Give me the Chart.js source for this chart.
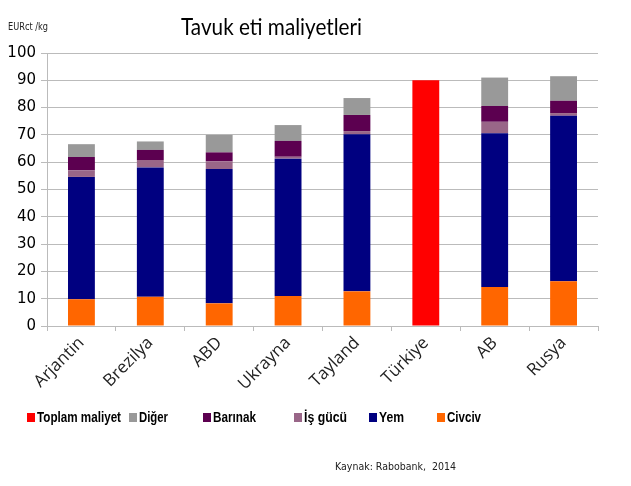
<!DOCTYPE html>
<html>
<head>
<meta charset="utf-8">
<script src="https://cdn.jsdelivr.net/npm/chart.js@4.4.1/dist/chart.umd.min.js"></script>
<style>
  html, body { margin: 0; padding: 0; background: #fff; }
  #wrap { width: 631px; height: 486px; }
</style>
</head>
<body>
<div id="wrap"><canvas id="c" width="631" height="486"></canvas></div>
<script>
// data (EURct/kg)
const countries = ['Arjantin', 'Brezilya', 'ABD', 'Ukrayna', 'Tayland', 'Türkiye', 'AB', 'Rusya'];
const civciv  = [9.8, 10.7, 8.3, 11.0, 12.7, null, 14.3, 16.4];
const yem     = [44.8, 47.4, 49.2, 50.3, 57.5, null, 56.3, 60.6];
const isGucu  = [2.4, 2.7, 2.8, 0.7, 1.2, null, 4.2, 1.0];
const barinak = [4.9, 3.7, 3.3, 5.8, 5.9, null, 5.8, 4.5];
const diger   = [4.7, 3.1, 6.4, 5.8, 6.2, null, 10.4, 9.0];
const toplam  = [null, null, null, null, null, 90, null, null];
const yTicks  = [0, 10, 20, 30, 40, 50, 60, 70, 80, 90, 100];

const colors = {
  toplam: '#ff0000',
  diger: '#999999',
  barinak: '#5c0050',
  isGucu: '#996688',
  yem: '#000080',
  civciv: '#ff6600'
};

// legend boxes sit at uneven spots in the original, so they are drawn by hand
const legendItems = [
  { label: 'Toplam maliyet', color: colors.toplam, x: 27, w: 84 },
  { label: 'Diğer', color: colors.diger, x: 129, w: 29 },
  { label: 'Barınak', color: colors.barinak, x: 203, w: 43 },
  { label: 'İş gücü', color: colors.isGucu, x: 294, w: 43 },
  { label: 'Yem', color: colors.yem, x: 369, w: 25 },
  { label: 'Civciv', color: colors.civciv, x: 437, w: 34 }
];

const makeSet = (label, data, color) => ({
  label: label,
  data: data,
  backgroundColor: color,
  borderWidth: 0,
  barPercentage: 0.39,
  categoryPercentage: 1.0
});

const decorations = {
  id: 'decorations',
  afterDraw(chart) {
    const ctx = chart.ctx;
    ctx.save();
    ctx.fillStyle = '#000';
    ctx.textBaseline = 'alphabetic';
    ctx.textAlign = 'left';

    // title
    ctx.font = '24px Lato, "Open Sans", sans-serif';
    ctx.fillText('Tavuk eti maliyetleri', 181, 35, 181);

    // unit
    ctx.font = '10px "DejaVu Sans", sans-serif';
    ctx.fillStyle = '#222';
    ctx.fillText('EURct /kg', 8, 30, 40);

    // legend
    ctx.font = 'bold 14px "Liberation Sans", Arial, sans-serif';
    legendItems.forEach(item => {
      ctx.fillStyle = item.color;
      ctx.fillRect(item.x, 413, 8, 9);
      ctx.fillStyle = '#000';
      ctx.fillText(item.label, item.x + 10, 422, item.w);
    });

    // source
    ctx.font = '11px "DejaVu Sans", sans-serif';
    ctx.fillStyle = '#222';
    ctx.fillText('Kaynak: Rabobank,  2014', 335, 470, 121);
    ctx.restore();
  }
};

new Chart(document.getElementById('c'), {
  type: 'bar',
  data: {
    labels: countries,
    datasets: [
      makeSet('Civciv', civciv, colors.civciv),
      makeSet('Yem', yem, colors.yem),
      makeSet('İş gücü', isGucu, colors.isGucu),
      makeSet('Barınak', barinak, colors.barinak),
      makeSet('Diğer', diger, colors.diger),
      makeSet('Toplam maliyet', toplam, colors.toplam)
    ]
  },
  options: {
    responsive: false,
    animation: false,
    layout: { padding: { top: 53, right: 33, left: 0, bottom: 0 } },
    plugins: {
      legend: { display: false },
      title: { display: false },
      tooltip: { enabled: false }
    },
    scales: {
      x: {
        stacked: true,
        afterFit: scale => { scale.height = 160; },
        grid: {
          offset: true,
          drawOnChartArea: false,
          drawTicks: true,
          tickLength: 5,
          color: '#bbbbbb'
        },
        border: { color: '#bbbbbb' },
        ticks: {
          minRotation: 45,
          maxRotation: 45,
          padding: 2,
          color: '#222',
          font: { family: '"Open Sans", sans-serif', size: 17 }
        }
      },
      y: {
        stacked: true,
        min: 0,
        max: 100,
        afterFit: scale => { scale.width = 47; },
        afterBuildTicks: scale => { scale.ticks = yTicks.map(v => ({ value: v })); },
        grid: {
          color: '#bbbbbb',
          tickLength: 6
        },
        border: { color: '#bbbbbb' },
        ticks: {
          padding: 5,
          color: '#000',
          font: { family: '"DejaVu Sans", sans-serif', size: 15 }
        }
      }
    }
  },
  plugins: [decorations]
});
</script>
</body>
</html>
